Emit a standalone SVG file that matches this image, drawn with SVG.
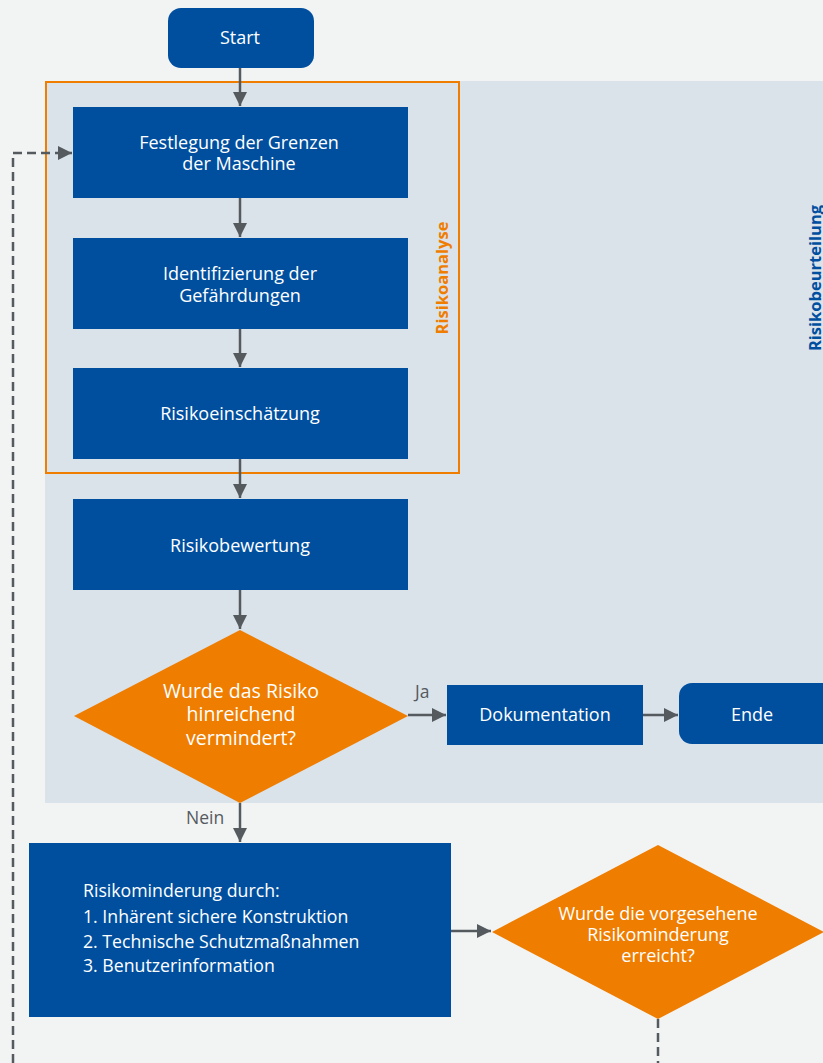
<svg xmlns="http://www.w3.org/2000/svg" width="823" height="1063" viewBox="0 0 823 1063">
<defs>
<style>
.box{fill:#004f9f}
.dia{fill:#ef7d00}
.t{font-family:"Open Sans","Noto Sans",sans-serif;font-size:18px;fill:#ffffff;text-anchor:middle}
.td{font-family:"Open Sans","Noto Sans",sans-serif;font-size:19.5px;fill:#ffffff;text-anchor:middle}
.td2{font-family:"Open Sans","Noto Sans",sans-serif;font-size:18px;fill:#ffffff;text-anchor:middle}
.tl{font-family:"Open Sans","Noto Sans",sans-serif;font-size:17.7px;fill:#ffffff;text-anchor:start}
.lbl{font-family:"Open Sans","Noto Sans",sans-serif;font-size:17.5px;fill:#555a5e}
.vt{font-family:"Open Sans","Noto Sans",sans-serif;font-size:16.5px;font-weight:bold;text-anchor:middle}
.ln{stroke:#555a5e;stroke-width:2.5;fill:none}
.dash{stroke:#555a5e;stroke-width:2.5;fill:none;stroke-dasharray:9 5}
</style>
<marker id="ah" viewBox="0 0 10 10" refX="10" refY="5" markerWidth="14" markerHeight="14" markerUnits="userSpaceOnUse" orient="auto">
<path d="M0,0 L10,5 L0,10 z" fill="#555a5e"/>
</marker>
</defs>
<rect x="0" y="0" width="823" height="1063" fill="#f2f4f4"/>
<g id="risikobeurteilung">
<rect x="45" y="81" width="778" height="722" fill="#dae2ea"/>
<text class="vt" x="0" y="0" transform="translate(821,278) rotate(-90)" fill="#004f9f">Risikobeurteilung</text>
</g>
<g id="risikoanalyse">
<rect x="46" y="82" width="413" height="391" fill="none" stroke="#ef7d00" stroke-width="2"/>
<text class="vt" x="0" y="0" transform="translate(448,278) rotate(-90)" fill="#ef7d00">Risikoanalyse</text>
</g>
<g id="connectors">
<line class="ln" x1="240" y1="68" x2="240" y2="106" marker-end="url(#ah)"/>
<line class="ln" x1="240" y1="198" x2="240" y2="237" marker-end="url(#ah)"/>
<line class="ln" x1="240" y1="329" x2="240" y2="367" marker-end="url(#ah)"/>
<line class="ln" x1="240" y1="459" x2="240" y2="498" marker-end="url(#ah)"/>
<line class="ln" x1="240" y1="590" x2="240" y2="629" marker-end="url(#ah)"/>
<line class="ln" x1="240" y1="803" x2="240" y2="842" marker-end="url(#ah)"/>
<line class="ln" x1="408" y1="715" x2="446" y2="715" marker-end="url(#ah)"/>
<line class="ln" x1="643" y1="715" x2="678" y2="715" marker-end="url(#ah)"/>
<line class="ln" x1="451" y1="931" x2="491" y2="931" marker-end="url(#ah)"/>
<polyline class="dash" points="13,1063 13,153 72,153" marker-end="url(#ah)"/>
<line class="dash" x1="658" y1="1019" x2="658" y2="1063"/>
<text class="lbl" x="415" y="698">Ja</text>
<text class="lbl" x="186" y="824">Nein</text>
</g>
<g id="start">
<rect class="box" x="168" y="8" width="146" height="60" rx="13"/>
<text class="t" x="240" y="44">Start</text>
</g>
<g id="grenzen">
<rect class="box" x="73" y="107" width="335" height="91"/>
<text class="t" x="239" y="149">Festlegung der Grenzen</text>
<text class="t" x="239" y="170">der Maschine</text>
</g>
<g id="gefaehrdungen">
<rect class="box" x="73" y="238" width="335" height="91"/>
<text class="t" x="240" y="280">Identifizierung der</text>
<text class="t" x="240" y="302">Gefährdungen</text>
</g>
<g id="einschaetzung">
<rect class="box" x="73" y="368" width="335" height="91"/>
<text class="t" x="240" y="420">Risikoeinschätzung</text>
</g>
<g id="bewertung">
<rect class="box" x="73" y="499" width="335" height="91"/>
<text class="t" x="240" y="552">Risikobewertung</text>
</g>
<g id="entscheidung1">
<polygon class="dia" points="240,630 408,716 240,803 74,716"/>
<text class="td" x="241" y="698">Wurde das Risiko</text>
<text class="td" x="241" y="721">hinreichend</text>
<text class="td" x="241" y="745">vermindert?</text>
</g>
<g id="dokumentation">
<rect class="box" x="447" y="685" width="196" height="60"/>
<text class="t" x="545" y="721">Dokumentation</text>
</g>
<g id="ende">
<rect class="box" x="679" y="683" width="160" height="61" rx="13"/>
<text class="t" x="752" y="721">Ende</text>
</g>
<g id="risikominderung">
<rect class="box" x="29" y="843" width="422" height="174"/>
<text class="tl" x="83" y="897">Risikominderung durch:</text>
<text class="tl" x="83" y="923">1. Inhärent sichere Konstruktion</text>
<text class="tl" x="83" y="948">2. Technische Schutzmaßnahmen</text>
<text class="tl" x="83" y="972">3. Benutzerinformation</text>
</g>
<g id="entscheidung2">
<polygon class="dia" points="658,845 824,932 658,1019 492,932"/>
<text class="td2" x="658" y="920">Wurde die vorgesehene</text>
<text class="td2" x="658" y="941">Risikominderung</text>
<text class="td2" x="658" y="962">erreicht?</text>
</g>
</svg>
